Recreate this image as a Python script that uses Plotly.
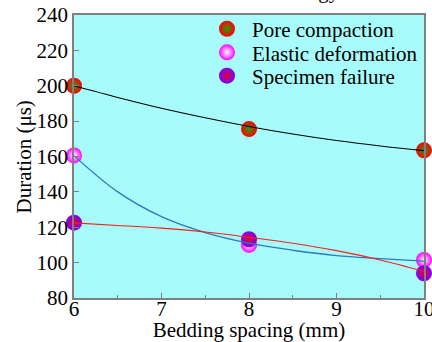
import plotly.graph_objects as go

# Data points
spacing = [6, 8, 10]
pore_compaction = [200, 175.5, 163.5]
elastic_deformation = [160.6, 110, 101.5]
specimen_failure = [122.6, 113.2, 94]

# Fitted curves
fit_x = [6, 6.5, 7, 7.5, 8, 8.5, 9, 9.5, 10]
pore_fit = [200, 193.4, 187.3, 181.9, 177, 172.7, 169, 165.9, 163.3]
elastic_fit = [160.5, 140, 126, 117, 111, 107, 104, 102.3, 100.8]
failure_fit = [122.5, 121, 119.5, 117.3, 114.3, 111, 106.8, 101.5, 95]

x_ticks = [6, 7, 8, 9, 10]
y_ticks = [80, 100, 120, 140, 160, 180, 200, 220, 240]

FONT = "Times New Roman, Liberation Serif, DejaVu Serif, serif"

fig = go.Figure()

series = [
    ("Pore compaction", pore_compaction, "#FF0000", "#2E9A10", "legend"),
    ("Elastic deformation", elastic_deformation, "#FF00FF", "#FFFFFF", "legend2"),
    ("Specimen failure", specimen_failure, "#7A00FF", "#E0002A", "legend3"),
]
for name, ys, col, center, lg in series:
    fig.add_trace(go.Scatter(
        x=spacing, y=ys, mode="markers", name=name, legend=lg,
        cliponaxis=False,
        marker=dict(size=16, color=col, line=dict(width=0),
                    gradient=dict(type="radial", color=center)),
    ))

fits = [(pore_fit, "#000000", 1.1), (elastic_fit, "#2B7BBA", 1.3), (failure_fit, "#FF1A1A", 1.1)]
for ys, col, w in fits:
    fig.add_trace(go.Scatter(
        x=fit_x, y=ys, mode="lines", showlegend=False,
        line=dict(color=col, width=w, shape="spline"),
    ))

leg_common = dict(
    xref="container", yref="container",
    xanchor="left", yanchor="middle", x=0.4676,
    bgcolor="rgba(0,0,0,0)", borderwidth=0, itemwidth=40,
    font=dict(family=FONT, size=21, color="#000000"),
)
fig.update_layout(
    legend=dict(y=0.915, **leg_common),
    legend2=dict(y=0.846, **leg_common),
    legend3=dict(y=0.7778, **leg_common),
)

axis_common = dict(
    showline=True, linecolor="#808080", linewidth=1.5, mirror=True,
    ticks="inside", ticklen=5, tickwidth=1.2, tickcolor="#808080",
    showgrid=False, zeroline=False, layer="above traces", automargin=False,
    ticklabeloverflow="allow",
    tickfont=dict(family=FONT, size=21, color="#000000"),
)

fig.update_xaxes(
    range=[6, 10], tickvals=x_ticks, ticktext=[str(v) for v in x_ticks],
    ticklabelstandoff=-9,
    minor=dict(ticks="inside", dtick=0.5, ticklen=3, tickcolor="#808080", tickwidth=1),
    title=dict(text="Bedding spacing (mm)", font=dict(family=FONT, size=21, color="#000000"), standoff=12),
    **axis_common,
)
fig.update_yaxes(
    range=[80, 240], tickvals=y_ticks, ticktext=[str(v) for v in y_ticks],
    **axis_common,
)

# y-axis title placed as a rotated annotation
fig.add_annotation(
    text="Duration (μs)", xref="paper", yref="paper", x=-0.143, y=0.5,
    xanchor="center", yanchor="middle", textangle=-90, showarrow=False,
    font=dict(family=FONT, size=21, color="#000000"),
)

# partially visible title at the very top edge
fig.add_annotation(
    text="Energy", xref="paper", yref="paper", x=0.765, y=1.037,
    xanchor="right", yanchor="bottom", showarrow=False,
    font=dict(family=FONT, size=21, color="#000000"),
)

fig.update_layout(
    width=432, height=342,
    margin=dict(l=74, r=8, t=15, b=44, autoexpand=False),
    paper_bgcolor="#FFFFFF", plot_bgcolor="#A8FBFB",
    font=dict(family=FONT, size=21, color="#000000"),
)

fig.write_html("out.html", config={"displayModeBar": False},
               post_script="document.body.style.margin='0px';")
